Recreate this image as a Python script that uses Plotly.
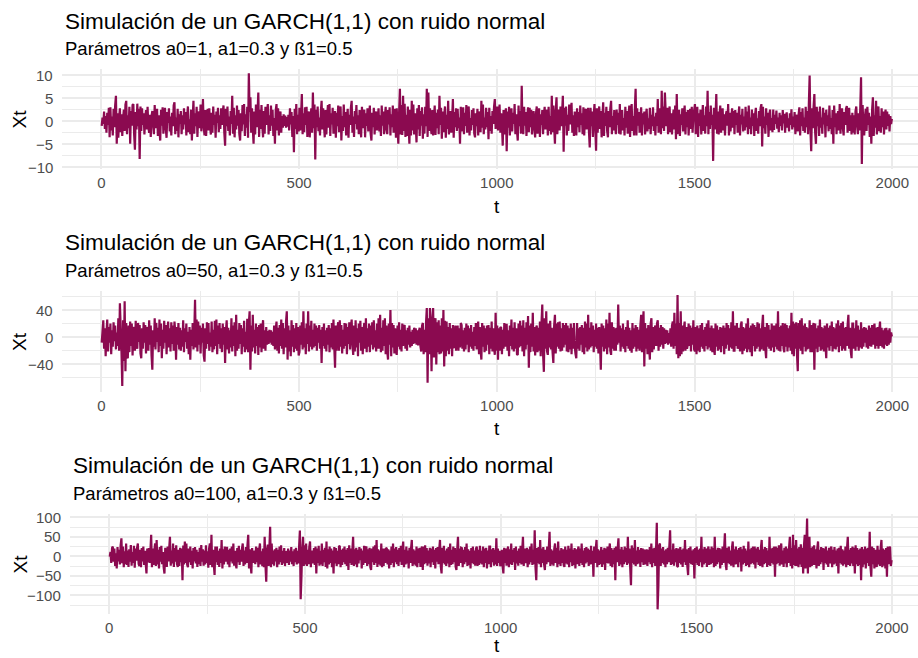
import plotly.graph_objects as go

# time index (every 2nd step of the 2000-step simulation)
t = list(range(1, 2000, 2))

xt_a0_1 = [
    -1.0, 0.8, -0.6, 2.1, -1.7, 1.1, -2.5, 1.8, -0.8, 2.9, -3.5, 3.0, -2.0, 1.0, -3.1, 2.7, -1.3, 3.4, 5.5, -4.9, 1.7, -3.6, 0.7, 2.8, -2.4,
    1.5, -3.2, 0.6, 2.5, -2.1, 3.6, 4.4, -2.8, 1.3, -1.5, 3.1, -4.9, 2.2, -1.0, 3.5, 3.7, -2.9, -6.2, 2.0, -1.8, 3.8, -1.1, 2.7, -8.2, 3.2,
    -2.1, 2.8, -0.8, 1.7, -2.9, 0.6, 2.4, -1.8, 3.1, -1.3, -2.5, 1.4, -3.4, 1.1, 2.2, -0.7, -2.8, 3.5, -1.5, 0.8, 2.7, -3.2, 1.3, -2.0, -4.2,
    2.5, -1.0, 3.0, -2.7, 0.7, 2.9, -1.7, -3.6, 2.0, -0.4, 2.8, -2.2, 1.0, -3.1, 1.8, -1.1, 3.4, 4.1, -2.8, 0.8, -2.1, 2.7, -3.5, 1.5, -0.6,
    2.2, -2.8, 1.3, -1.8, 2.8, -0.7, 2.0, -3.1, 1.0, 3.2, -2.4, 0.4, -2.8, 2.5, -4.2, 0.8, 4.4, -2.7, 1.7, -1.1, 3.1, -3.4, 1.1, 2.1, -1.5,
    3.6, -2.2, 0.6, 4.8, -1.3, -3.1, 2.4, -3.2, 0.7, 2.7, -2.0, 2.8, -1.0, -2.9, 1.8, -2.5, 3.2, -0.8, 1.4, -3.6, 2.1, -0.4, 2.9, -2.4, 1.3,
    -1.7, 2.8, -0.8, 2.0, 3.4, -2.5, -5.3, 2.7, -1.1, 3.2, -2.1, 1.0, -3.1, 2.2, -0.6, 5.5, -2.7, 2.9, -3.5, 1.3, -1.8, 3.4, -1.0, 2.4, -2.8,
    -4.2, 1.7, -2.2, 3.5, -0.7, 3.7, -3.2, 1.5, -1.4, 3.1, -3.6, 10.4, 2.0, 5.2, -2.5, 2.8, -1.7, -4.9, 2.1, -2.9, 3.6, -1.3, 1.8, 6.2, -3.4,
    2.5, -1.7, 3.5, -1.1, -3.5, 2.2, -2.7, 3.1, -0.8, 1.8, 3.7, -2.9, 1.3, -2.1, 3.4, -1.0, 2.5, -3.2, 0.7, -4.9, 2.4, 3.7, -2.0, 2.8, -3.1,
    0.8, 2.1, -2.5, 1.1, -1.4, 1.5, -1.0, 1.2, -1.4, 0.9, -1.2, 1.4, -2.0, 2.8, -0.7, 2.0, -3.4, 1.1, -6.7, 2.7, -1.7, 3.7, -2.8, 1.4, -2.2,
    2.9, -2.0, 1.0, 5.9, -2.8, 1.7, -2.4, 3.0, -0.8, 3.1, -3.4, 1.3, 2.1, -3.5, 0.6, 2.8, -2.5, 6.2, -1.5, 3.6, -8.3, 2.5, -1.3, 3.2, -2.2,
    0.8, -3.1, 2.0, 4.4, -1.8, 2.8, -1.0, -3.5, 2.4, -2.9, 1.1, 3.5, -1.4, 3.7, -3.2, 1.7, -0.7, 2.9, -2.7, 0.8, 2.2, -3.6, 1.8, -1.1, 3.4,
    -2.4, 1.5, 3.2, -4.2, 1.1, -2.1, 3.6, -1.3, 2.0, -3.1, 0.7, 2.7, -3.6, 1.4, -0.8, 2.9, 4.4, -2.5, 1.0, -3.4, 2.2, -0.6, 3.5, -1.8, 1.3,
    -2.8, 2.4, -1.1, -3.5, 3.1, -1.5, 0.8, 2.5, -3.5, 1.7, -1.0, 2.8, -2.2, 0.6, 3.4, -2.7, -4.2, 1.8, -1.3, 2.9, -2.9, 1.1, 2.1, -2.0, 0.4,
    2.8, -2.2, 1.3, -3.2, 3.4, -1.0, 2.1, -2.8, 0.8, 3.1, -1.8, -2.8, 2.4, -0.7, 3.0, -3.1, 1.5, -1.3, 3.4, -2.5, 0.6, 2.7, -3.6, 2.8, -1.7,
    -4.9, 2.0, 7.0, -2.9, 3.5, -3.0, 5.5, -2.1, 3.8, -3.4, 1.4, -3.2, 3.2, -1.1, -4.9, 2.5, -3.1, 4.4, -2.0, 3.6, -2.9, 1.7, -0.8, -4.6, 2.8,
    -1.8, 3.5, -3.2, 2.2, -1.0, 3.0, -3.8, 1.5, -2.7, 3.1, -1.1, 7.0, -3.4, 6.2, -2.1, 2.8, -1.3, -2.8, 2.4, -3.1, 0.8, 3.4, -3.0, 1.8, -1.5,
    2.5, -2.8, 5.5, -0.8, 2.9, -3.8, 2.1, -2.4, 1.1, 3.2, -3.6, 1.4, -1.7, 4.4, -2.9, 1.0, 2.2, -2.5, 0.6, 4.8, -3.6, 2.0, -1.3, 2.8, -2.1,
    2.7, -1.5, 0.8, -4.9, 3.1, -2.2, 1.1, 3.0, -2.8, 1.8, -1.0, 3.5, -2.5, 1.3, 3.2, -3.1, 0.7, -2.0, 2.4, -0.8, 2.8, -2.7, -3.5, 1.7, -1.1,
    2.7, -3.1, 1.0, 2.1, -2.4, 4.4, -1.4, 3.6, -2.8, 0.8, -1.8, 2.9, -1.3, 2.0, -3.9, 2.9, -2.1, 1.1, -2.7, 2.2, -0.6, 3.1, 4.8, -1.7, 1.3,
    3.2, -2.0, 1.1, 3.6, -2.5, 1.7, -0.8, -5.3, 2.4, -2.9, 1.3, 2.8, -6.5, 2.1, -1.4, 3.1, -3.1, 1.0, 2.8, -2.2, 1.8, -0.6, 3.7, -2.8, 1.5,
    -2.1, -4.2, 3.4, -1.1, 2.2, -2.7, 7.7, -1.7, -2.8, 3.1, -1.0, 2.0, -3.2, 0.8, 3.0, -2.4, 2.9, -1.3, 2.5, -2.9, 0.7, 2.2, -1.8, -3.5, 1.7,
    3.2, -2.7, 1.0, 2.8, -3.4, 1.5, -0.8, 2.4, -2.8, 1.3, 3.1, -1.8, 0.6, 2.5, -3.1, 3.1, -2.1, 1.1, -2.9, 5.5, -2.4, 3.4, -1.3, -4.9, 2.2,
    5.2, -2.8, 0.8, 2.5, -2.0, 3.2, -1.1, 1.7, 5.5, -6.6, 2.9, -1.0, 3.2, -3.1, 1.4, -2.1, 3.6, -0.7, 2.0, 4.0, -2.5, 1.3, -3.2, 2.1, -0.8,
    -3.1, 2.8, -1.3, 2.0, -2.4, 3.4, -0.8, 1.7, -2.8, 3.0, -3.1, 1.1, 2.7, -1.8, 0.7, 2.9, -2.2, -5.7, 2.9, -1.1, 2.1, -3.4, 1.3, 3.7, -1.5,
    -6.4, 2.8, -2.5, 1.0, 3.2, -1.7, 2.2, -3.5, 0.8, 4.1, -3.2, 1.8, -1.0, 3.1, -2.1, -3.5, 2.2, -1.3, 2.8, 4.4, -2.8, 1.1, -2.0, 2.4, -0.7,
    -2.8, 2.5, -0.8, 1.8, -2.7, 3.7, -2.9, 1.3, 2.4, -2.0, 0.7, -3.1, 3.1, -1.4, 2.2, -2.7, 1.0, 3.4, -3.4, 1.5, 3.7, -2.1, 1.1, -3.1, 2.7,
    7.0, -3.1, 2.8, -1.0, 2.0, -2.5, 0.8, 3.0, -3.1, 1.7, -0.7, 2.1, -2.9, 1.3, 2.7, -2.2, 0.6, -1.7, 2.9, -2.8, 1.4, -1.1, 3.0, -2.1, 1.0,
    -3.1, 1.8, -1.0, 4.8, -2.5, 1.3, 2.8, -2.8, 6.6, -1.5, 3.2, -2.1, 6.2, 2.1, -1.1, 2.9, -2.8, 0.8, 3.2, -2.4, 1.7, -2.9, 0.7, 2.5, -1.8,
    3.4, -3.9, 5.9, -2.8, 1.1, 2.5, -3.2, 1.5, -0.8, 2.8, -2.2, 1.0, 3.4, -2.9, 2.0, -1.3, 2.4, -3.1, 0.7, 2.7, -1.7, 3.1, -2.5, 0.8, 2.4,
    3.7, -2.8, 1.1, 3.1, -3.4, 1.7, -1.0, 2.5, -2.9, 0.8, 3.5, -2.1, 1.3, -2.7, 3.2, -1.1, 6.6, -2.8, 2.0, -1.7, 3.4, -0.8, 1.4, -8.6, 2.9,
    -1.8, 1.0, 5.9, -2.7, 2.1, -2.9, 1.1, 3.4, -2.5, 0.7, 2.8, -2.0, 1.5, -3.1, 1.3, 2.2, -1.0, 3.7, -3.1, 1.8, -2.2, 0.6, 2.8, -1.4, 2.2,
    -2.8, 2.4, -0.8, 1.8, -2.5, 1.1, 3.2, -3.1, 1.4, -0.7, 2.7, -2.2, 1.0, -2.0, 3.1, -1.3, 2.1, -2.8, 3.4, -1.7, 0.8, -2.8, 2.5, -1.0, 1.7,
    -3.2, 1.3, 2.9, -2.1, 0.6, -2.7, 2.2, -1.1, 2.9, 3.7, -5.5, 3.1, -1.5, 1.0, -2.7, 2.8, -0.8, 1.8, -3.4, 1.3, 2.5, -2.0, 0.7, -2.4, 2.5,
    -1.9, 1.4, -0.6, 2.3, -1.6, 0.8, -2.4, 1.8, -1.0, 1.3, -2.0, 2.4, -0.5, 1.6, -2.5, 1.1, 1.9, -1.4, 0.6, -2.2, 1.7, -0.8, 2.6, -1.8, 1.0,
    -1.3, 2.0, -2.8, 0.7, 1.4, -2.2, 1.3, 3.0, -3.1, 2.0, -1.1, 2.8, -2.1, 0.8, -2.5, 3.1, -1.3, 2.2, -2.8, 3.6, 9.9, -2.0, -6.5, 2.8, -1.5,
    3.2, 5.9, -2.5, -4.9, 3.1, -1.1, 2.1, -3.2, 3.2, -1.4, 0.8, -2.7, 2.9, -0.7, 1.8, -3.5, 2.5, -1.0, 1.3, -2.2, 3.4, -1.7, 0.7, -2.8, 2.4,
    -4.9, 3.4, -1.3, 1.7, -2.8, 1.0, 2.2, -2.0, 3.7, -2.7, 1.1, 2.8, -1.5, -3.1, 2.0, -0.8, 2.7, 3.3, -2.5, 0.8, 2.9, -2.1, 1.3, -2.9, 1.8,
    -2.5, 1.3, -2.9, 2.2, 3.2, -1.0, -2.8, 1.7, -2.0, 2.8, 9.5, -9.3, 3.5, -1.5, -3.1, 1.1, 2.7, -2.1, 3.1, -0.8, 1.8, -3.4, 1.0, -4.9, 2.5,
    5.2, -3.2, 1.3, -1.4, 4.4, -2.9, 1.7, 3.2, -2.2, 1.1, -2.5, 2.8, -1.3, 2.1, -2.9, 0.8, 2.5, -1.8, 2.1, -1.0, 1.5, -2.2, 1.1, -0.6, 0.5,
]

xt_a0_50 = [
    -8, 8, 25, -17, 13, -28, 6, 26, -21, 15, -8, 20, -25, 10, -14, 22, -6, 17, -18, 7, -13, 28, -20, 50, 14,
    -22, -72, 25, -35, 53, -50, 21, -28, -31, 17, -22, 23, -13, 20, -27, 8, 15, -20, 24, -10, -17, 21, -7, 18, -24,
    -31, 13, -17, 22, -8, 18, -24, 7, 15, -20, 25, -11, 17, -27, -48, 10, -14, 28, -18, 21, -7, 14, -22, 26, -13,
    20, -31, 11, -17, 24, -8, 18, -25, 6, 23, -15, 13, -21, 22, -10, 17, -20, 23, 8, -33, 15, -11, 21, -18, 14,
    -20, 10, -14, 25, -22, 13, -7, 20, -17, 8, -25, 15, -33, 11, -13, 21, -18, 6, 55, -15, 26, -21, 23, -11, 17,
    -24, 14, -8, 20, -27, -36, 13, -17, 22, -10, 21, -20, 7, -14, 23, -22, 11, -18, 24, -13, 26, -25, 17, -10, 21,
    -17, 13, -22, 20, -11, 15, -38, 8, 25, -18, 14, -24, 10, -15, 28, -21, 17, -13, 22, -28, 33, -20, 11, -17, 21,
    -10, 18, -25, 13, -14, 24, -22, 8, -18, 27, -22, 20, 38, -48, 17, -21, 33, -15, 11, -24, 20, -13, 15, -26, 18,
    -15, 20, -22, 13, 25, -17, 10, -20, 15, -11, 9, -10, 11, -8, 10, -11, 8, -13, 17, -18, 11, 23, -20, 14, -24,
    18, -13, 26, -17, 21, -25, 13, -15, 22, 38, -33, 17, -21, 10, -28, 25, -14, 18, -22, 13, -17, 21, -20, 15, -27,
    -22, 17, -11, 22, -18, 38, -15, 13, -25, 20, -10, 38, -21, 17, -14, 24, -18, 11, -15, 20, -13, 17, -20, 14, -8,
    18, -17, 11, -38, 15, -13, 20, -17, 10, -21, 14, -11, 18, -22, 13, -15, 21, -18, 26, -14, -45, 17, -20, 13, 22,
    -20, 25, -14, 18, -24, 11, -17, 21, -13, 20, -25, 15, -10, 22, -18, 14, 26, -11, -26, 17, -21, 25, -15, 13, -28,
    20, -8, 24, -20, 15, -25, 11, 21, -17, 28, -22, 13, -14, 20, -22, 17, -11, 22, -18, 25, -15, 10, -21, 20, -17,
    28, -17, 33, -22, 14, -20, 25, -13, 28, -25, 17, -21, -33, 20, -11, 40, -28, 21, -15, 18, -24, 13, -20, -26, 17,
    -14, 22, -18, 11, -21, 20, -13, 15, 18, -17, 10, -20, 14, -11, 17, -15, 8, -13, 11, -10, 14, -9, 13, -11, 10,
    -12, 9, 14, -14, -21, 17, 21, -25, 11, -22, 21, 43, -67, 28, -25, 43, 14, -50, 25, 43, -30, 20, 28, -40, 22,
    -22, 25, -25, 17, -24, 28, -21, 40, -43, 24, -28, 23, -20, 15, -25, 21, -17, 13, -28, 18, -14, -16, 17, -20, 11,
    17, -20, 13, -15, 21, 18, -17, 10, -21, 14, -18, 20, -11, 17, -22, 13, -14, 18, -17, 8, -20, 15, -13, 21, -18,
    11, 23, -25, 15, -20, -33, 21, -14, 17, -22, 13, -20, 17, -11, 18, -25, 14, -17, 23, -21, 13, -15, -26, 36, -20,
    17, -33, 13, -20, 15, 14, -25, 11, -17, 21, -14, 18, 18, -20, 10, -28, 17, -13, 26, -18, 14, -21, 22, -17, 13,
    -25, -26, 20, -15, 24, -13, 17, -21, 25, -28, 14, -18, 22, -11, 31, -45, 17, -22, 20, -14, 36, -21, 15, -27, 13,
    17, -22, 14, -20, 23, -28, 21, 48, -25, -51, 28, -17, 38, -21, -26, 20, -15, 24, -18, 14, -22, -38, 17, 33, -24,
    20, -14, 22, -17, 23, -21, 13, -20, 21, -15, 18, -11, 21, -21, 17, -22, 13, -18, 20, -25, 14, -17, 21, -13, -25,
    -31, 21, -17, 13, -20, 15, -11, 18, -22, 14, -25, 23, -15, 20, -21, 33, -18, 14, -15, 22, -13, 17, -22, 11, -14,
    20, -17, 14, -24, 15, -11, -48, 20, -14, 17, -21, 13, -17, 26, -25, 20, -15, 36, -20, -26, 22, -17, 15, -20, 13,
    -20, 14, -11, 48, -8, 17, -21, 13, -14, 20, -17, 11, -22, 15, -13, 25, -17, 14, -20, 10, -23, 21, -17, 13, -14,
    18, -21, 15, -17, 11, -20, 17, 33, -22, 14, 38, -43, 21, -17, 13, -25, 18, -14, -33, 20, 28, -22, 15, -18, 13,
    17, -13, 20, 25, -20, 14, -14, 18, -11, 15, -17, 13, -10, 11, -9, 10, -11, 6, -9, 13, -14, 17, 23, -17, 36,
    -13, 20, -25, 62, -31, 21, -28, 38, -25, 17, -21, 13, 23, -20, 15, -17, -11, 20, -13, 17, -21, 14, -11, 25, -18,
    -21, 15, -25, 17, -20, 13, -22, 18, -14, 21, -17, 11, -21, 15, -13, 20, -18, 25, -15, 14, -20, 17, -22, 13, -17,
    -26, 20, -14, 17, -20, 11, -18, 15, -22, 14, -13, 17, -25, 14, -17, 21, -11, 18, -20, 13, -15, 22, -17, 38, -20,
    -20, 17, -13, 21, -17, -11, 14, -21, 18, 23, -25, 15, -20, 13, -17, 20, -22, 28, -18, 14, -22, 17, -28, 20, -13,
    18, -21, 15, -17, 22, -14, 20, -21, 13, -18, 17, 33, -20, 15, -17, -31, 21, -14, 18, -17, 11, -20, 20, -15, 17,
    -22, 17, -14, 20, -18, 38, -20, 15, -21, 17, -13, 21, -17, -22, 20, -14, 18, -21, 13, -15, 17, -20, 36, -25, 23,
    -28, 20, -17, 22, -25, -50, 21, -17, 25, -20, 28, -25, 17, -14, 20, -21, 15, -18, 13, -17, 25, -22, 18, -22, 14,
    21, -48, 20, -17, 13, -22, 17, -14, 26, -20, 15, -18, 13, -21, 17, -11, -31, 20, -15, 14, -20, 17, -13, 23, -21,
    15, -17, 13, -18, 20, -14, 25, -22, 17, -13, 21, -20, 23, -17, 14, -20, 15, -13, 18, 33, -17, 14, -21, -31, 20,
    20, -17, 13, -20, 25, -14, 17, -20, 11, -15, 22, -17, 13, -14, 15, -8, 14, -15, 11, -17, 17, -13, 14, -14, 18,
    -11, 13, 20, -17, 14, -13, 15, -17, 11, 23, -13, 14, -15, 10, -17, 13, -11, 14, -13, 10, -11, 13, -8, 7, 1,
]

xt_a0_100 = [
    -1, 11, -17, 21, 25, -14, 20, -25, 8, -31, 24, -13, 17, -21, 28, 46, -18, 25, -28, 13, -20, 33, -22, 15, -27,
    18, -14, 29, -24, 11, -17, 27, -29, 20, -11, 22, 33, -20, -25, 17, -28, 21, -13, 25, -22, 14, -18, -44, 20, -15,
    21, -17, 14, 55, -28, 20, -22, 13, 33, -25, 42, -21, 17, -31, 24, -14, 27, -20, 11, -29, -44, 22, -17, -27, 25,
    -13, 20, 50, -24, 15, -18, 33, -27, 21, -14, 28, -20, -27, 17, -25, 22, -15, 20, -61, 28, -21, 38, -17, 33, -22,
    -28, 20, -15, 25, -22, 14, -31, 21, -13, 24, -18, 17, -27, 11, -20, 22, -25, 29, -14, 18, -24, 15, -21, 28, -17,
    13, -29, 20, 33, -22, 55, -28, 17, -20, -48, 25, -15, 25, -22, 14, -27, 20, -17, 42, -31, 18, -21, 25, -14, 22,
    22, -21, 17, -28, 20, -13, 25, -18, 33, -24, 14, -20, -31, 21, -15, 27, -22, 17, -14, 20, 33, -25, 15, -21, 24,
    -17, 28, 55, -31, 18, -22, -44, 21, -17, 14, 8, -20, 25, -15, 22, -28, 17, 33, -21, 13, -25, 20, -28, 50, -22,
    -65, 17, 30, -25, 21, 76, -28, 33, -20, 15, -24, 18, -13, 22, -28, 17, -21, 25, -15, 28, -22, 14, -18, 21, -25,
    13, 8, -17, 20, -22, 15, -14, 24, -20, 13, -25, 18, -15, 22, -21, 14, -18, 25, 66, -110, -52, 20, 50, -25, 28,
    -21, 33, -25, 17, -20, 24, 38, -28, 15, -18, -10, 21, -22, 25, -44, 20, -17, 27, -24, 14, -21, 33, -25, 17, -15,
    22, -27, 38, -31, 18, -21, 25, -17, 20, -28, 15, -44, 24, -18, 21, -25, 14, -20, 27, 25, -28, 17, -22, 20, -15,
    25, -20, 17, -25, 21, -35, 28, -17, 20, -22, 15, 50, -25, 18, -21, 22, -28, 17, -18, 24, -10, 20, -31, 15, -22,
    27, -17, 21, 25, -25, 18, -20, 22, -28, -35, 20, -15, 25, -22, 28, -17, 42, -27, 18, -21, 15, -24, 33, -28, 20,
    -25, 20, -17, 22, 20, -21, 18, -31, 15, -22, 25, -17, 33, -28, 20, -15, 24, -20, 17, -25, 21, -14, 27, -22, 18,
    38, -28, 17, -21, 25, -18, 15, -31, 22, -17, 20, 42, -25, 18, -21, 15, -24, 25, -28, 20, -17, 22, -27, 17, 25,
    -35, 25, -20, 28, -17, 21, -24, 15, -18, 22, -28, 20, -15, 25, -22, 17, -31, 21, -14, 24, -20, 18, 42, -25, -44,
    22, -17, 27, -21, 15, -25, 20, -18, 24, -28, 33, -22, 17, -20, 25, -15, 21, -27, -35, 18, 50, -25, 20, -17, 22,
    21, -28, 17, -20, 24, -15, 33, -25, 18, -22, 14, -31, 21, -17, 25, -20, 15, -24, 20, 25, -25, 17, -22, 27, -18,
    14, -21, 25, -28, 20, -17, 22, -31, 15, -20, 25, 25, -28, 18, -15, 21, -24, 17, -21, 46, -25, 20, -17, 14, -25,
    -21, 17, -25, -44, 22, -17, 20, -24, 15, 25, -28, 18, -20, 33, -22, 17, -15, 21, -35, 25, -18, 14, -24, 20, -17,
    27, -21, 15, 50, -25, 20, -17, -10, 22, -28, 18, -21, 25, -15, 33, -22, 17, -20, 67, -28, -61, 21, -17, 24, -20,
    42, -28, 20, -17, 24, -21, -35, 17, -20, 25, -15, 22, 63, -25, 18, -21, 15, -24, 20, 33, -17, 22, -28, 38, -20,
    15, -25, 21, -17, 18, -22, -27, 25, -18, 17, -21, 27, -28, 20, -15, 33, -25, 17, -22, 21, -31, 18, -20, 15, 25,
    -25, 20, -17, 33, -22, 15, -28, 21, -18, 24, -15, 20, -25, 17, -21, 27, -20, 14, -52, 25, -17, 20, 42, -28, 18,
    -22, 15, -20, 24, -27, 17, -21, 22, -35, 20, -17, 25, -18, 15, 33, -25, 21, -28, 17, -20, 22, -61, 25, -15, 20,
    46, -25, 18, -21, 24, -28, 17, -20, 25, -15, 21, -22, 50, -18, 20, -28, -74, 28, -17, 22, -21, 42, -25, 15, -20,
    24, -18, 17, -27, 21, -15, 20, -22, 14, 16, -21, 18, -25, 17, -15, 24, -20, 33, -28, 20, -17, 22, -25, 15, 86,
    -136, -78, 28, 33, -25, 20, -17, 24, -21, 15, -28, 18, -20, 22, -15, 25, 67, -22, 17, -20, 33, -24, 18, -15, 21,
    -25, -27, 20, -17, 24, -21, 17, -27, 20, -15, 42, -22, 18, -25, -48, 21, -17, 25, -20, 15, -22, 18, -57, 21, -17,
    25, -22, 17, -25, 20, -15, 50, -28, 18, -21, 24, -17, 20, -27, 15, 25, -22, 18, -20, 25, -17, 21, -28, 50, -25,
    17, -20, 22, -15, 21, -31, 18, -22, 25, -17, 20, 59, -21, -35, 22, -17, 25, -20, 15, -24, 21, 38, -28, 18, -21,
    25, -20, 17, -28, 21, -15, 24, -39, 18, -21, 27, -17, 20, -25, 15, -22, 38, -28, 18, -20, 22, -17, 25, -21, 25,
    -31, 20, -15, 24, -22, 17, -25, 21, 42, -28, 18, -20, 24, -17, 21, -27, 15, -22, 50, -25, 20, -17, 22, -21, 25,
    -52, 25, -20, 22, -17, 28, -24, 18, 33, -21, 15, -27, 22, -18, 25, -28, 20, -17, 24, 50, -25, 21, -31, 55, -22,
    28, -25, 42, -25, 20, -28, 24, -21, 31, -27, 22, -44, 28, 55, -31, 25, 97, -44, 25, 50, -28, 21, -25, 25, -22,
    28, -22, 18, -31, 21, 38, -25, 17, -20, 24, -15, 21, -35, 20, -17, 25, -21, 15, -27, 22, -18, 20, 25, -28, 17,
    -21, 24, -18, 15, -25, 20, -44, 22, -17, 27, -21, 18, -24, 15, -20, 25, -28, 20, 50, -22, 17, -25, 21, -18, 25,
    -25, 22, -44, 28, -20, 21, -25, 17, -22, 20, -61, 24, -28, 18, -21, 25, -31, 20, -17, 22, -25, 63, -28, -52, 25,
    -20, 21, -31, 17, -22, -27, 27, -21, 17, -25, 22, 42, -28, 20, -24, 17, -31, 21, -52, 25, -20, 17, 25, -25, -10,
]

titles = ["Simulación de un GARCH(1,1) con ruido normal"] * 3
subtitles = [
    "Parámetros a0=1, a1=0.3 y ß1=0.5",
    "Parámetros a0=50, a1=0.3 y ß1=0.5",
    "Parámetros a0=100, a1=0.3 y ß1=0.5",
]
series = [xt_a0_1, xt_a0_50, xt_a0_100]
x_ticks = [0, 500, 1000, 1500, 2000]
x_minor = [250, 750, 1250, 1750]
y_ticks = [[-10, -5, 0, 5, 10], [-40, 0, 40], [-100, -50, 0, 50, 100]]
y_minor = [[-7.5, -2.5, 2.5, 7.5], [-60, -20, 20, 60], [-125, -75, -25, 25, 75]]

W, H = 918, 658
FONT = "Liberation Sans, Arial, sans-serif"
LINE = "#8B0A50"
GRID = "#EBEBEB"
TICK_COLOR = "#4D4D4D"

# pixel geometry of the three panels
panels = [
    dict(left=62, top=69, bottom=169, xr=(-99.4, 2065), yr=(-10.36, 11.31),
         title_x=63, title_mid=21.5, sub_mid=48.8, xt_y=206.5, xt_anchor="middle"),
    dict(left=62, top=291, bottom=392, xr=(-99.4, 2065), yr=(-80.7, 68.0),
         title_x=63, title_mid=243.0, sub_mid=270.8, xt_y=428.5, xt_anchor="middle"),
    dict(left=70, top=514, bottom=614, xr=(-100.4, 2066.4), yr=(-147.9, 108.5),
         title_x=71, title_mid=465.0, sub_mid=493.8, xt_y=658, xt_anchor="bottom"),
]


def tick_text(v):
    s = f"{v:g}"
    return s.replace("-", "\u2212")


fig = go.Figure()
annotations = []
layout_axes = {}
for k, (p, ys) in enumerate(zip(panels, series)):
    n = "" if k == 0 else str(k + 1)
    fig.add_trace(go.Scatter(
        x=t[:len(ys)], y=ys, mode="lines",
        line=dict(color=LINE, width=2.2, simplify=False),
        xaxis="x" + n, yaxis="y" + n, showlegend=False, hoverinfo="skip",
    ))
    layout_axes["xaxis" + n] = dict(
        domain=[p["left"] / W, 1.0], range=list(p["xr"]), anchor="y" + n,
        tickmode="array", tickvals=x_ticks, automargin=False,
        showgrid=True, gridcolor=GRID, gridwidth=2.2, zeroline=False,
        showline=False, ticks="", ticklabelstandoff=3,
        tickfont=dict(family=FONT, size=15, color=TICK_COLOR),
        minor=dict(tickmode="array", tickvals=x_minor, showgrid=True,
                   gridcolor=GRID, gridwidth=1.1, ticks=""),
        fixedrange=True,
    )
    layout_axes["yaxis" + n] = dict(
        domain=[1 - p["bottom"] / H, 1 - p["top"] / H], range=list(p["yr"]),
        anchor="x" + n, tickmode="array", tickvals=y_ticks[k], automargin=False,
        showgrid=True, gridcolor=GRID, gridwidth=2.2, zeroline=False,
        showline=False, ticks="", showticklabels=False,
        minor=dict(tickmode="array", tickvals=y_minor[k], showgrid=True,
                   gridcolor=GRID, gridwidth=1.1, ticks=""),
        fixedrange=True,
    )
    # y tick labels, right-aligned just left of the panel
    for v in y_ticks[k]:
        annotations.append(dict(
            text=tick_text(v), xref="paper", yref="y" + n,
            x=(p["left"] - 8.5) / W, y=v, xanchor="right", yanchor="middle",
            showarrow=False, borderpad=0,
            font=dict(family=FONT, size=15, color=TICK_COLOR),
        ))
    annotations.append(dict(
        text=titles[k], xref="paper", yref="paper", x=p["title_x"] / W,
        y=1 - p["title_mid"] / H, xanchor="left", yanchor="middle", showarrow=False,
        font=dict(family=FONT, size=22.5, color="#000000"),
    ))
    annotations.append(dict(
        text=subtitles[k], xref="paper", yref="paper", x=p["title_x"] / W,
        y=1 - p["sub_mid"] / H, xanchor="left", yanchor="middle", showarrow=False,
        font=dict(family=FONT, size=18.5, color="#000000"),
    ))
    annotations.append(dict(
        text="Xt", xref="paper", yref="paper", x=19.5 / W,
        y=1 - (p["top"] + p["bottom"]) / 2 / H, xanchor="center", yanchor="middle",
        textangle=-90, showarrow=False,
        font=dict(family=FONT, size=19, color="#000000"),
    ))
    annotations.append(dict(
        text="t", xref="paper", yref="paper", x=496.8 / W,
        y=1 - p["xt_y"] / H, xanchor="center", yanchor=p["xt_anchor"], showarrow=False,
        font=dict(family=FONT, size=19, color="#000000"),
    ))

fig.update_layout(
    width=W, height=H, margin=dict(l=0, r=0, t=0, b=0),
    paper_bgcolor="white", plot_bgcolor="white",
    font=dict(family=FONT), annotations=annotations, showlegend=False,
    **layout_axes,
)

fig.write_html("out.html", config={"displayModeBar": False})
